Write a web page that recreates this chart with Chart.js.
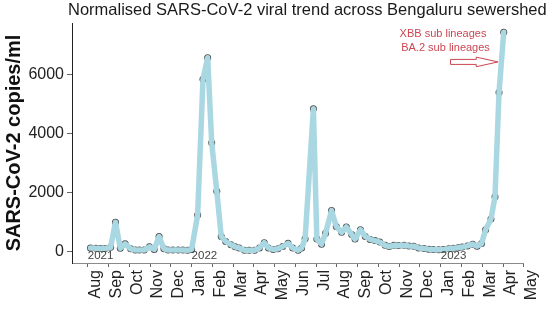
<!DOCTYPE html>
<html>
<head>
<meta charset="utf-8">
<title>SARS-CoV-2 Bengaluru sewershed</title>
<script src="https://cdn.jsdelivr.net/npm/chart.js@4.4.1/dist/chart.umd.min.js"></script>
<style>
  body { margin: 0; background: #fff; }
</style>
</head>
<body>
<canvas id="Chart" width="546" height="329"></canvas>
<script>

var chartTitle = 'Normalised SARS-CoV-2 viral trend across Bengaluru sewershed';

var sampleDates = [
  '2021-08-05','2021-08-13','2021-08-20','2021-08-27','2021-09-04','2021-09-11','2021-09-18','2021-09-25',
  '2021-10-03','2021-10-10','2021-10-16','2021-10-23','2021-10-31','2021-11-07','2021-11-14','2021-11-21','2021-11-27',
  '2021-12-04','2021-12-12','2021-12-19','2021-12-26','2022-01-01','2022-01-10','2022-01-18','2022-01-25','2022-01-31',
  '2022-02-07','2022-02-13','2022-02-19','2022-02-26','2022-03-04','2022-03-10','2022-03-18','2022-03-25',
  '2022-04-02','2022-04-09','2022-04-16','2022-04-22','2022-04-29','2022-05-06','2022-05-13','2022-05-21','2022-05-28',
  '2022-06-05','2022-06-10','2022-06-15','2022-06-27','2022-07-02','2022-07-09','2022-07-15','2022-07-24','2022-07-31',
  '2022-08-08','2022-08-15','2022-08-23','2022-08-28','2022-09-05','2022-09-12','2022-09-19','2022-09-26',
  '2022-10-03','2022-10-11','2022-10-17','2022-10-24','2022-10-31','2022-11-08','2022-11-15','2022-11-22','2022-11-29',
  '2022-12-07','2022-12-14','2022-12-21','2022-12-29','2023-01-05','2023-01-13','2023-01-20','2023-01-27',
  '2023-02-02','2023-02-09','2023-02-16','2023-02-22','2023-02-28','2023-03-06','2023-03-14','2023-03-20','2023-03-26','2023-04-02'
];

var copiesPerMl = [
  130, 120, 110, 110, 150, 1000, 120, 270,
  100, 60, 60, 60, 170, 80, 520, 100, 60,
  60, 60, 60, 50, 80, 1250, 5850, 6580, 3700,
  2050, 520, 350, 240, 170, 130, 50, 50,
  50, 130, 310, 130, 80, 100, 180, 290, 130,
  50, 130, 440, 4850, 430, 260, 630, 1400, 860,
  660, 840, 590, 430, 750, 520, 420, 380,
  330, 220, 180, 220, 210, 220, 200, 190, 130,
  110, 90, 80, 70, 80, 100, 120, 140,
  160, 200, 260, 190, 280, 750, 1110, 1870, 5400, 7450
];

// one tick per month, Aug 2021 = 0
var monthLabels = ['Aug','Sep','Oct','Nov','Dec','Jan','Feb','Mar','Apr','May','Jun',
                   'Jul','Aug','Sep','Oct','Nov','Dec','Jan','Feb','Mar','Apr','May'];
var yearLabels = ['2021', '2022', '2023'];
var yearTicks = [0, 5, 17];
var yTicks = [0, 2000, 4000, 6000];

var noteLines = ['XBB sub lineages', 'BA.2 sub lineages'];

function monthIndex(s) {
  var p = s.split('-').map(Number);
  var days = new Date(p[0], p[1], 0).getDate();
  return (p[0] - 2021) * 12 + (p[1] - 8) + (p[2] - 1) / days;
}

var points = sampleDates.map(function (d, i) {
  return { x: monthIndex(d), y: copiesPerMl[i] };
});

var font = '"Liberation Sans", Arial, sans-serif';
var red = '#cc4752';

const extras = {
  id: 'extras',
  afterDraw(chart) {
    const ctx = chart.ctx, xs = chart.scales.x, ys = chart.scales.y, area = chart.chartArea;
    ctx.save();

    // title, runs off the right edge like the original
    ctx.fillStyle = '#1a1a1a';
    ctx.font = '16.5px ' + font;
    ctx.textAlign = 'left';
    ctx.textBaseline = 'alphabetic';
    ctx.fillText(chartTitle, area.left - 4, 15);

    // years sitting on the x axis
    ctx.fillStyle = '#444';
    ctx.font = '11.5px ' + font;
    yearLabels.forEach(function (y, i) {
      ctx.fillText(y, xs.getPixelForValue(yearTicks[i]), area.bottom - 4.5);
    });

    // lineage note + arrow
    ctx.fillStyle = red;
    ctx.font = '11px ' + font;
    ctx.textAlign = 'center';
    ctx.fillText(noteLines[0], xs.getPixelForValue(17.11), ys.getPixelForValue(7290));
    ctx.fillText(noteLines[1], xs.getPixelForValue(17.23), ys.getPixelForValue(6820));

    var ay = ys.getPixelForValue(6440);
    var tail = xs.getPixelForValue(17.47), base = xs.getPixelForValue(18.71), tip = xs.getPixelForValue(19.76);
    ctx.beginPath();
    ctx.moveTo(tail, ay - 2.5);
    ctx.lineTo(base, ay - 2.5);
    ctx.lineTo(base, ay - 4.8);
    ctx.lineTo(tip, ay);
    ctx.lineTo(base, ay + 4.8);
    ctx.lineTo(base, ay + 2.5);
    ctx.lineTo(tail, ay + 2.5);
    ctx.closePath();
    ctx.fillStyle = '#fff';
    ctx.fill();
    ctx.strokeStyle = red;
    ctx.lineWidth = 1;
    ctx.stroke();

    ctx.restore();
  }
};

const ctx = document.getElementById('Chart').getContext('2d');
const chart = new Chart(ctx, {
  data: {
    datasets: [{
      type: 'line',
      data: points,
      borderColor: '#a9d7e2',
      borderWidth: 5.5,
      borderJoinStyle: 'round',
      borderCapStyle: 'round',
      pointRadius: 0,
      tension: 0,
      order: 1
    }, {
      type: 'scatter',
      data: points,
      backgroundColor: 'rgba(45,45,45,0.85)',
      borderWidth: 0,
      pointRadius: 3.5,
      order: 2
    }]
  },
  options: {
    responsive: false,
    animation: false,
    layout: { padding: { top: 23, right: 18, left: 0, bottom: 0 } },
    plugins: { legend: { display: false }, tooltip: { enabled: false } },
    scales: {
      x: {
        type: 'linear',
        min: -0.76,
        max: 21,
        afterFit: function (scale) { scale.height = 66; },
        border: { display: true, color: '#8a8a8a', width: 1 },
        grid: { drawOnChartArea: false, tickLength: 4, color: '#666' },
        ticks: {
          stepSize: 1,
          includeBounds: false,
          autoSkip: false,
          maxRotation: 90,
          minRotation: 90,
          padding: 3,
          labelOffset: 8,
          color: '#222',
          font: { family: font, size: 16 },
          callback: function (v) { return monthLabels[v]; }
        }
      },
      y: {
        min: -380,
        max: 7760,
        afterFit: function (scale) { scale.width = 72; },
        afterBuildTicks: function (scale) {
          scale.ticks = yTicks.map(function (v) { return { value: v }; });
        },
        border: { display: true, color: '#222', width: 1 },
        grid: { drawOnChartArea: false, tickLength: 5, color: '#666' },
        ticks: {
          padding: 3,
          color: '#222',
          font: { family: font, size: 16 },
          callback: function (v) { return String(v); }
        },
        title: {
          display: true,
          text: 'SARS-CoV-2 copies/ml',
          color: '#111',
          font: { family: font, size: 20, weight: 'bold' },
          padding: { top: 2, bottom: 0 }
        }
      }
    }
  },
  plugins: [extras]
});

</script>
</body>
</html>
